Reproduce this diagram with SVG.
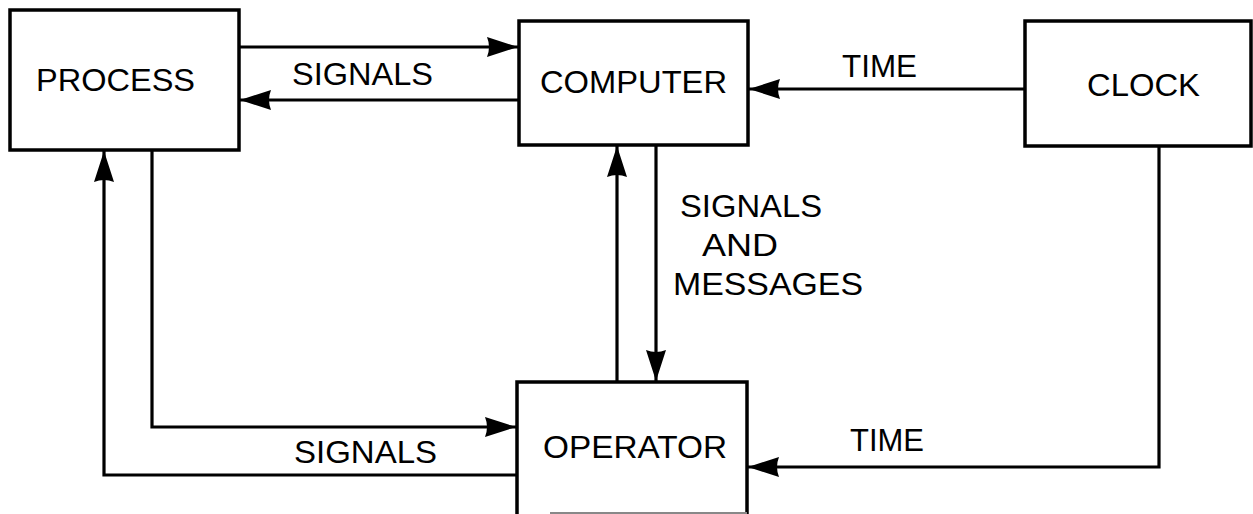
<svg xmlns="http://www.w3.org/2000/svg" width="1253" height="514" viewBox="0 0 1253 514">
<style>
.box{fill:#fff;stroke:#000;stroke-width:3.5}
.ln{fill:none;stroke:#000;stroke-width:3.2}
.t{font-family:"Liberation Sans",Arial,sans-serif;font-size:32px;fill:#000}
</style>
<defs>
<marker id="ah" markerUnits="userSpaceOnUse" markerWidth="34" markerHeight="24" refX="32" refY="12" orient="auto" viewBox="0 0 34 24">
<path d="M1,2 L32,12 L1,22 Q5,12 1,2 Z" fill="#000"/>
</marker>
</defs>
<rect width="1253" height="514" fill="#fff"/>
<g id="connectors">
<path class="ln" d="M239,47 H518" marker-end="url(#ah)"/>
<path class="ln" d="M519,100 H240" marker-end="url(#ah)"/>
<path class="ln" d="M1025,89 H749" marker-end="url(#ah)"/>
<path class="ln" d="M617,382 V146" marker-end="url(#ah)"/>
<path class="ln" d="M656,145 V381" marker-end="url(#ah)"/>
<path class="ln" d="M152,150 V427 H516" marker-end="url(#ah)"/>
<path class="ln" d="M517,475 H104 V151" marker-end="url(#ah)"/>
<path class="ln" d="M1159,146 V467 H748" marker-end="url(#ah)" stroke-width="2.6"/>
<text class="t" x="292" y="85" textLength="141" lengthAdjust="spacingAndGlyphs">SIGNALS</text>
<text class="t" x="842" y="77" textLength="75" lengthAdjust="spacingAndGlyphs">TIME</text>
<text class="t" x="680" y="217" textLength="142" lengthAdjust="spacingAndGlyphs">SIGNALS</text>
<text class="t" x="702" y="256" textLength="76" lengthAdjust="spacingAndGlyphs">AND</text>
<text class="t" x="673" y="295" textLength="190" lengthAdjust="spacingAndGlyphs">MESSAGES</text>
<text class="t" x="294" y="463" textLength="143" lengthAdjust="spacingAndGlyphs">SIGNALS</text>
<text class="t" x="850" y="451" textLength="74" lengthAdjust="spacingAndGlyphs">TIME</text>
</g>
<g id="process">
<rect class="box" x="10" y="10" width="229" height="140"/>
<text class="t" x="36" y="91" textLength="159" lengthAdjust="spacingAndGlyphs">PROCESS</text>
</g>
<g id="computer">
<rect class="box" x="519" y="21" width="229" height="124"/>
<text class="t" x="540" y="93" textLength="187" lengthAdjust="spacingAndGlyphs">COMPUTER</text>
</g>
<g id="clock">
<rect class="box" x="1025" y="21" width="226" height="125"/>
<text class="t" x="1087" y="96" textLength="113" lengthAdjust="spacingAndGlyphs">CLOCK</text>
</g>
<g id="operator">
<rect class="box" x="517" y="382" width="230" height="140"/>
<line x1="550" y1="513" x2="747" y2="513" stroke="#888" stroke-width="2"/>
<text class="t" x="543" y="458" textLength="184" lengthAdjust="spacingAndGlyphs">OPERATOR</text>
</g>
</svg>
